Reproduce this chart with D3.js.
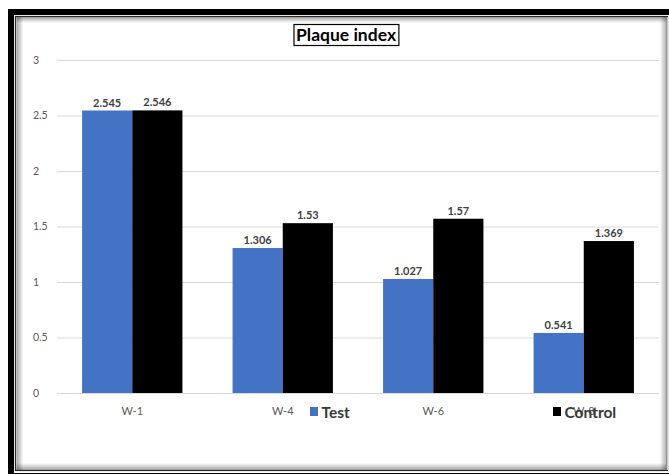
<!DOCTYPE html>
<html>
<head>
<meta charset="utf-8">
<script src="https://cdn.jsdelivr.net/npm/d3@7"></script>
<style>
  html, body { margin: 0; padding: 0; background: #fff; }
  svg { display: block; }
  text { font-family: Lato, "Open Sans", sans-serif; }
</style>
</head>
<body>
<svg id="chart" width="669" height="474"></svg>
<script>
// Plaque index scores per week
const categories = ["W-1", "W-4", "W-6", "W-8"];
const seriesNames = ["Test", "Control"];
const testValues = [2.545, 1.306, 1.027, 0.541];
const controlValues = [2.546, 1.53, 1.57, 1.369];
const tickValues = [0, 0.5, 1, 1.5, 2, 2.5, 3];
const tickLabels = ["0", "0.5", "1", "1.5", "2", "2.5", "3"];
const titleText = "Plaque index";

const colors = { Test: "#4472C4", Control: "#000000" };
const seriesValues = { Test: testValues, Control: controlValues };

const svg = d3.select("#chart");
const W = 669, H = 474;

// Frame: thick black outer border, thin inner line and soft inner shadow
const defs = svg.append("defs");
function grad(id, x1, y1, x2, y2) {
  const g = defs.append("linearGradient").attr("id", id)
    .attr("x1", x1).attr("y1", y1).attr("x2", x2).attr("y2", y2);
  g.append("stop").attr("offset", "0%").attr("stop-color", "#000").attr("stop-opacity", 0.35);
  g.append("stop").attr("offset", "100%").attr("stop-color", "#000").attr("stop-opacity", 0);
}
grad("shL", "0", "0", "1", "0");
grad("shT", "0", "0", "0", "1");
grad("shB", "0", "1", "0", "0");
grad("shR", "1", "0", "0", "0");

svg.append("rect").attr("x", 0).attr("y", 0).attr("width", W).attr("height", H).attr("fill", "#fff");
svg.append("rect").attr("x", 8).attr("y", 9).attr("width", W).attr("height", H).attr("fill", "#000");
svg.append("rect").attr("x", 14).attr("y", 15).attr("width", W - 14).attr("height", 458).attr("fill", "#fff");
svg.append("rect").attr("x", 15.5).attr("y", 16.5).attr("width", 652).attr("height", 454)
  .attr("fill", "none").attr("stroke", "#2a2a2a").attr("stroke-width", 1.2);
svg.append("line").attr("x1", 667.5).attr("x2", 667.5).attr("y1", 17).attr("y2", 470)
  .attr("stroke", "#c8c8c8").attr("stroke-width", 1.5);
svg.append("rect").attr("x", 16.5).attr("y", 17).attr("width", 7).attr("height", 453).attr("fill", "url(#shL)");
svg.append("rect").attr("x", 16.5).attr("y", 17).attr("width", 650).attr("height", 6).attr("fill", "url(#shT)");
svg.append("rect").attr("x", 16.5).attr("y", 463).attr("width", 650).attr("height", 7).attr("fill", "url(#shB)");
svg.append("rect").attr("x", 660).attr("y", 17).attr("width", 7).attr("height", 453).attr("fill", "url(#shR)");

// Scales
const plotLeft = 57, plotRight = 659, plotTop = 60, plotBottom = 393;
const y = d3.scaleLinear().domain([0, 3]).range([plotBottom, plotTop]);
const x0 = d3.scaleBand().domain(categories).range([plotLeft, plotRight])
  .paddingInner(1 / 3).paddingOuter(1 / 6);
const x1 = d3.scaleBand().domain(seriesNames).range([0, x0.bandwidth()]);

// Gridlines and y tick labels
const yAxis = d3.axisLeft(y)
  .tickValues(tickValues)
  .tickFormat((d, i) => tickLabels[i])
  .tickSize(-(plotRight - plotLeft));
const gy = svg.append("g").attr("transform", `translate(${plotLeft},0)`).call(yAxis);
gy.select(".domain").remove();
gy.selectAll(".tick line").attr("stroke", "#d9d9d9").attr("stroke-width", 1);
gy.selectAll(".tick text")
  .attr("x", 33 - plotLeft).attr("text-anchor", "start")
  .attr("fill", "#595959").attr("font-size", 10.5);

// Bars
const groups = svg.append("g").selectAll("g")
  .data(categories).join("g")
  .attr("transform", d => `translate(${x0(d)},0)`);

groups.selectAll("rect")
  .data((c, i) => seriesNames.map(s => ({ s, v: seriesValues[s][i] })))
  .join("rect")
  .attr("x", d => x1(d.s))
  .attr("y", d => y(d.v))
  .attr("width", x1.bandwidth())
  .attr("height", d => y(0) - y(d.v))
  .attr("fill", d => colors[d.s]);

// Value labels
groups.selectAll("text.val")
  .data((c, i) => seriesNames.map(s => ({ s, v: seriesValues[s][i] })))
  .join("text")
  .attr("class", "val")
  .attr("x", d => x1(d.s) + x1.bandwidth() / 2)
  .attr("y", d => y(d.v) - 4)
  .attr("text-anchor", "middle")
  .attr("font-size", 11)
  .attr("font-weight", 700)
  .attr("fill", "#404040")
  .text(d => String(d.v));

// Category labels
const xAxis = d3.axisBottom(x0).tickSize(0).tickPadding(14);
const gx = svg.append("g").attr("transform", `translate(0,${plotBottom})`).call(xAxis);
gx.select(".domain").remove();
gx.selectAll(".tick text").attr("fill", "#595959").attr("font-size", 11)
  .attr("font-family", "Lato, sans-serif");

// Legend (sits on the category label row)
const legendPos = { Test: 310, Control: 553 };
const legend = svg.append("g").selectAll("g").data(seriesNames).join("g")
  .attr("transform", d => `translate(${legendPos[d]},407)`);
legend.append("rect").attr("width", 8).attr("height", 9).attr("fill", d => colors[d]);
legend.append("text").attr("x", 11.5).attr("y", 10.5)
  .attr("font-size", 15.5).attr("font-weight", 700).attr("fill", "#3a3a3a")
  .text(d => d);

// Title with box
const title = svg.append("g");
const tt = title.append("text").attr("x", 346).attr("y", 41)
  .attr("text-anchor", "middle").attr("font-size", 17.5).attr("font-weight", 700)
  .attr("fill", "#000").text(titleText);
const bb = tt.node().getBBox();
title.insert("rect", "text")
  .attr("x", bb.x - 2).attr("y", 24.5).attr("width", bb.width + 4).attr("height", 21)
  .attr("fill", "#fff").attr("stroke", "#000").attr("stroke-width", 1.2);
</script>
</body>
</html>
